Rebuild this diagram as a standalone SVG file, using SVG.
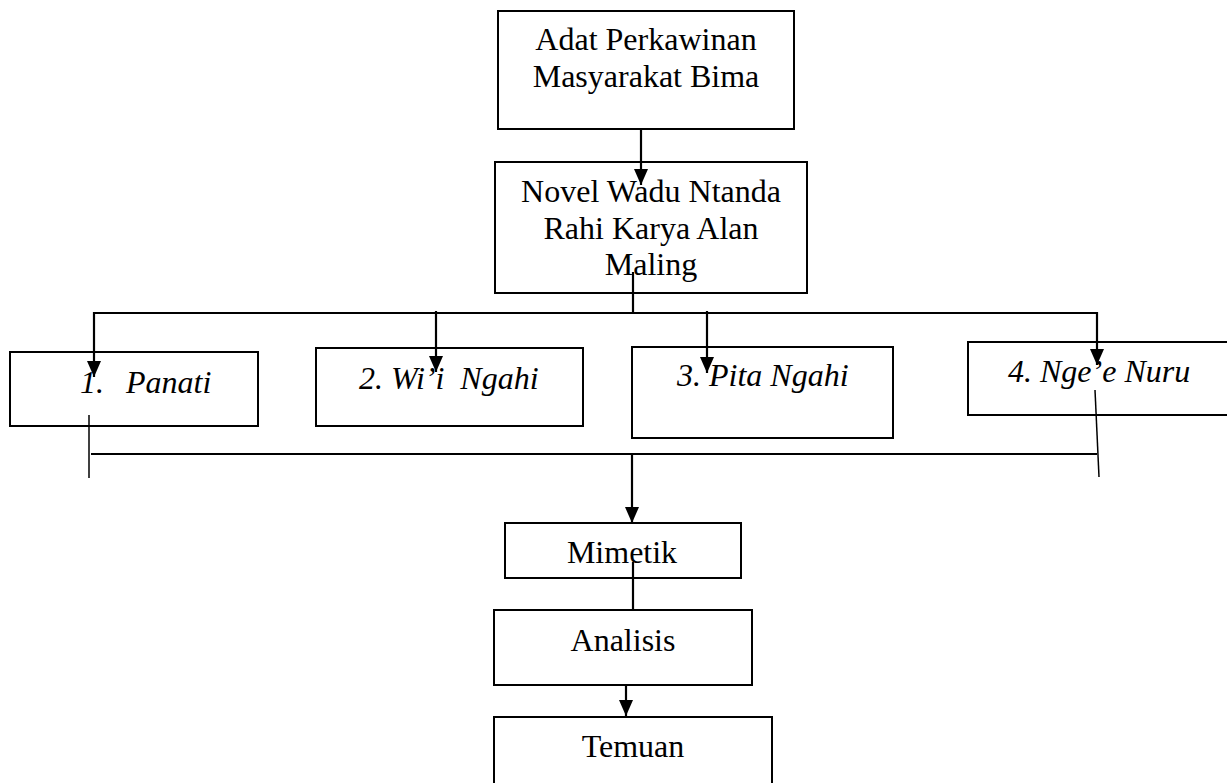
<svg xmlns="http://www.w3.org/2000/svg" width="1227" height="783" viewBox="0 0 1227 783">
<style>
.box{fill:#fff;stroke:#000;stroke-width:2}
.t{font-family:"Liberation Serif","Times New Roman",serif;font-size:32px;fill:#000}
.c{text-anchor:middle}
.i{font-style:italic}
.ln{fill:none;stroke:#000;stroke-width:2.2}
.thin{fill:none;stroke:#000;stroke-width:1.5}
</style>
<defs>
<marker id="ah" viewBox="0 0 16 14" refX="16" refY="7" markerWidth="16" markerHeight="14" markerUnits="userSpaceOnUse" orient="auto">
<path d="M0,0 L16,7 L0,14 z" fill="#000"/>
</marker>
</defs>
<rect width="1227" height="783" fill="#fff"/>
<g id="n-adat">
<rect class="box" x="498" y="11" width="296" height="118"/>
<text class="t c" x="646" y="50">Adat Perkawinan</text>
<text class="t c" x="646" y="87">Masyarakat Bima</text>
</g>
<g id="n-novel">
<rect class="box" x="495" y="162" width="312" height="131"/>
<text class="t c" x="651" y="202">Novel Wadu Ntanda</text>
<text class="t c" x="651" y="239">Rahi Karya Alan</text>
<text class="t c" x="651" y="275">Maling</text>
</g>
<g id="n-panati">
<rect class="box" x="10" y="352" width="248" height="74"/>
<text class="t i" y="393"><tspan x="80">1.</tspan><tspan x="126">Panati</tspan></text>
</g>
<g id="n-wii">
<rect class="box" x="316" y="348" width="267" height="78"/>
<text class="t i" x="359" y="389" xml:space="preserve">2. Wi’i  Ngahi</text>
</g>
<g id="n-pita">
<rect class="box" x="632" y="347" width="261" height="91"/>
<text class="t i" x="677" y="386">3. Pita Ngahi</text>
</g>
<g id="n-ngee">
<rect class="box" x="968" y="342" width="280" height="73"/>
<text class="t i" x="1008" y="382">4. Nge’e Nuru</text>
</g>
<g id="n-mimetik">
<rect class="box" x="505" y="523" width="236" height="55"/>
<text class="t c" x="622" y="563">Mimetik</text>
</g>
<g id="n-analisis">
<rect class="box" x="494" y="610" width="258" height="75"/>
<text class="t c" x="623" y="651">Analisis</text>
</g>
<g id="n-temuan">
<rect class="box" x="494" y="717" width="278" height="100"/>
<text class="t c" x="633" y="757">Temuan</text>
</g>
<g id="connectors">
<line class="ln" x1="641" y1="129" x2="641" y2="185" marker-end="url(#ah)"/>
<line class="ln" x1="633" y1="272" x2="633" y2="314"/>
<line class="ln" x1="94" y1="313" x2="1097" y2="313"/>
<line class="ln" x1="94" y1="312" x2="94" y2="377" marker-end="url(#ah)"/>
<line class="ln" x1="436" y1="311" x2="436" y2="372" marker-end="url(#ah)"/>
<line class="ln" x1="707" y1="311" x2="707" y2="373" marker-end="url(#ah)"/>
<line class="ln" x1="1097" y1="312" x2="1097" y2="365" marker-end="url(#ah)"/>
<line class="thin" x1="89" y1="415" x2="89" y2="478"/>
<line class="ln" x1="91" y1="454" x2="1097" y2="454"/>
<line class="thin" x1="1095" y1="390" x2="1099" y2="477"/>
<line class="ln" x1="632" y1="455" x2="632" y2="523" marker-end="url(#ah)"/>
<line class="ln" x1="633" y1="562" x2="633" y2="610"/>
<line class="ln" x1="626" y1="685" x2="626" y2="716" marker-end="url(#ah)"/>
</g>
</svg>
